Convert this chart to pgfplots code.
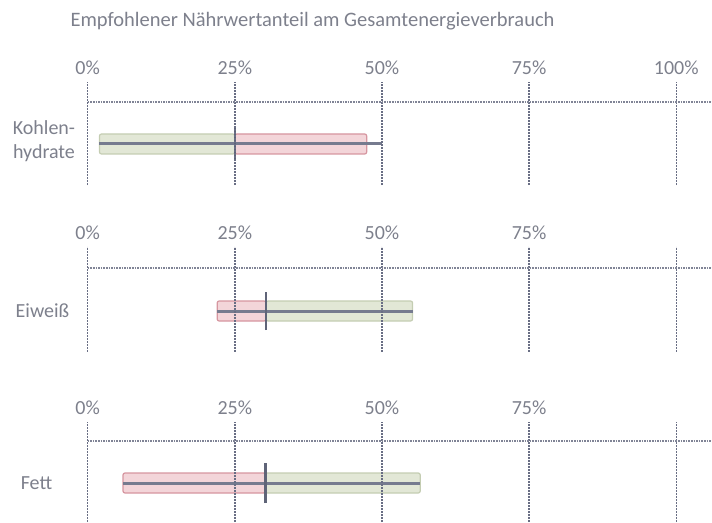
\documentclass[border=0pt]{standalone}
\usepackage{fontspec}
\setmainfont{Carlito}
\usepackage{pgfplots}
\pgfplotsset{compat=1.18}
\definecolor{txt}{RGB}{125,128,140}
\definecolor{gridc}{RGB}{105,110,132}
\definecolor{gfill}{RGB}{226,231,214}
\definecolor{gdraw}{RGB}{196,205,178}
\definecolor{rfill}{RGB}{243,213,217}
\definecolor{rdraw}{RGB}{214,150,160}
\definecolor{whisk}{RGB}{118,123,143}
\definecolor{medc}{RGB}{95,100,120}
\pgfplotsset{
  panel/.style={
    scale only axis, width=624.3pt, xmin=0, xmax=106.07,
    axis on top, clip=false,
    axis line style={draw=none}, major tick length=0pt,
    xtick={0,25,50,75,100},
    xticklabel pos=upper,
    xmajorgrids,
    grid style={gridc, line width=1.5pt, dash pattern=on 2pt off 1pt},
    ytick={0},
    extra y tick style={grid=major, grid style={gridc!85, line width=2.2pt, dash pattern=on 1.6pt off 1pt}},
    extra y tick labels={},
    ticklabel style={font=\fontsize{20}{24}\selectfont, text=txt},
    xticklabel style={anchor=center, yshift=13.5pt},
    yticklabel style={align=center, anchor=center},
  },
  gbar/.style={fill=gfill, draw=gdraw, line width=1.2pt, rounded corners=2pt},
  rbar/.style={fill=rfill, draw=rdraw, line width=1.2pt, rounded corners=2pt},
  wline/.style={whisk, line width=3pt},
  mline/.style={medc, line width=2.2pt},
}
\begin{document}
\begin{tikzpicture}
\node[anchor=base west, font=\fontsize{20.5}{24}\selectfont, text=txt] at (67pt,495.3pt) {Empfohlener Nährwertanteil am Gesamtenergieverbrauch};

% Kohlenhydrate
\begin{axis}[panel, at={(87.7pt,440.3pt)}, anchor=north west, height=103.3pt,
  ymin=-41, ymax=62.3, extra y ticks={41.7},
  xticklabels={0\%,25\%,50\%,75\%,100\%},
  yticklabels={Kohlen-\\hydrate}, yticklabel style={xshift=-43.7pt, yshift=3pt}]
\addplot[gbar] coordinates {(2,-10) (25,-10) (25,10) (2,10)} --cycle;
\addplot[rbar] coordinates {(25,-10) (47.4,-10) (47.4,10) (25,10)} --cycle;
\addplot[wline] coordinates {(2,0) (50,0)};
\addplot[mline] coordinates {(25,-17) (25,17)};
\end{axis}

% Eiweiss
\begin{axis}[panel, at={(87.7pt,275.3pt)}, anchor=north west, height=105pt,
  ymin=-40.7, ymax=64.3, extra y ticks={43.3},
  xticklabels={0\%,25\%,50\%,75\%,{}},
  yticklabels={Eiweiß}, yticklabel style={xshift=-45.2pt}]
\addplot[rbar] coordinates {(22,-10) (30.3,-10) (30.3,10) (22,10)} --cycle;
\addplot[gbar] coordinates {(30.3,-10) (55.2,-10) (55.2,10) (30.3,10)} --cycle;
\addplot[wline] coordinates {(22,0) (55.2,0)};
\addplot[mline] coordinates {(30.3,-19) (30.3,19)};
\end{axis}

% Fett
\begin{axis}[panel, at={(87.7pt,100.3pt)}, anchor=north west, height=100.3pt,
  ymin=-39, ymax=61.3, extra y ticks={42.3},
  xticklabels={0\%,25\%,50\%,75\%,{}},
  yticklabels={Fett}, yticklabel style={xshift=-51.2pt}]
\addplot[rbar] coordinates {(6,-10) (30.2,-10) (30.2,10) (6,10)} --cycle;
\addplot[gbar] coordinates {(30.2,-10) (56.5,-10) (56.5,10) (30.2,10)} --cycle;
\addplot[wline] coordinates {(6,0) (56.5,0)};
\addplot[mline] coordinates {(30.2,-20) (30.2,20)};
\end{axis}
\pgfresetboundingbox
\useasboundingbox (0pt,0pt) rectangle (712pt,522pt);
\end{tikzpicture}
\end{document}
